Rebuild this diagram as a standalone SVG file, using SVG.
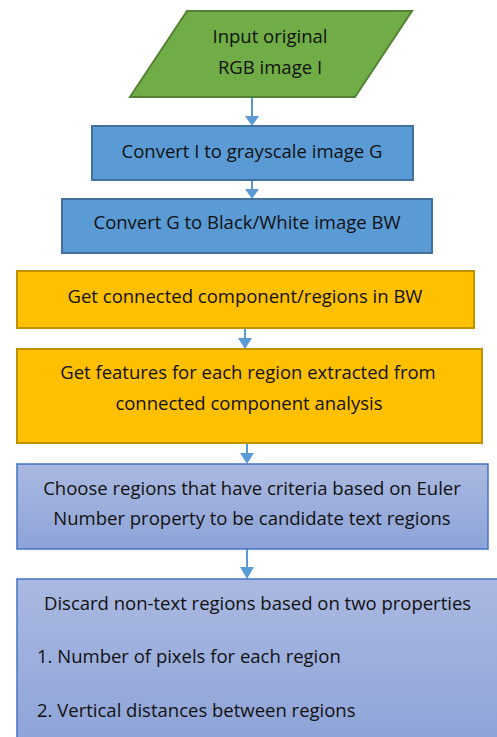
<svg xmlns="http://www.w3.org/2000/svg" width="497" height="737" viewBox="0 0 497 737">
<defs>
<style>
text{font-family:"Open Sans","Liberation Sans",Arial,sans-serif;font-size:18.5px;fill:#111}
.c{text-anchor:middle}
.edge{stroke:#5B9BD5;stroke-width:2;fill:none}
.head{fill:#5B9BD5}
</style>
<linearGradient id="g" x1="0" y1="0" x2="0" y2="1">
<stop offset="0" stop-color="#AAB9E1"/>
<stop offset="1" stop-color="#8DA3D7"/>
</linearGradient>
</defs>
<rect width="497" height="737" fill="#fff"/>
<g id="connectors">
<line class="edge" x1="252" y1="97" x2="252" y2="117"/>
<path class="head" d="M245,116 L259,116 L252,126 Z"/>
<line class="edge" x1="252" y1="180" x2="252" y2="190"/>
<path class="head" d="M245,189 L259,189 L252,199 Z"/>
<line class="edge" x1="245" y1="328" x2="245" y2="339"/>
<path class="head" d="M238,338 L252,338 L245,349 Z"/>
<line class="edge" x1="247" y1="443" x2="247" y2="454"/>
<path class="head" d="M240,453 L254,453 L247,464 Z"/>
<line class="edge" x1="247" y1="549" x2="247" y2="568"/>
<path class="head" d="M240,567 L254,567 L247,579 Z"/>
</g>
<g id="input">
<polygon points="187,11 412,11 355,97 130,97" fill="#70AD47" stroke="#548235" stroke-width="2"/>
<text class="c" x="270" y="43">Input original</text>
<text class="c" x="270" y="74">RGB image I</text>
</g>
<g id="gray">
<rect x="92" y="126" width="321" height="54" fill="#5B9BD5" stroke="#41719C" stroke-width="2"/>
<text class="c" x="252" y="158">Convert I to grayscale image G</text>
</g>
<g id="bw">
<rect x="62" y="199" width="370" height="54" fill="#5B9BD5" stroke="#41719C" stroke-width="2"/>
<text class="c" x="247" y="229">Convert G to Black/White image BW</text>
</g>
<g id="cc">
<rect x="17" y="271" width="457" height="57" fill="#FFC000" stroke="#BF9000" stroke-width="2"/>
<text class="c" x="245" y="303">Get connected component/regions in BW</text>
</g>
<g id="features">
<rect x="17" y="349" width="465" height="94" fill="#FFC000" stroke="#BF9000" stroke-width="2"/>
<text class="c" x="248" y="379">Get features for each region extracted from</text>
<text class="c" x="249" y="410">connected component analysis</text>
</g>
<g id="euler">
<rect x="17" y="464" width="471" height="85" fill="url(#g)" stroke="#4472C4" stroke-width="1.5"/>
<text class="c" x="252" y="495">Choose regions that have criteria based on Euler</text>
<text class="c" x="252" y="525">Number property to be candidate text regions</text>
</g>
<g id="discard">
<rect x="17" y="579" width="490" height="170" fill="url(#g)" stroke="#4472C4" stroke-width="1.5"/>
<text x="44" y="610">Discard non-text regions based on two properties</text>
<text x="37" y="663">1. Number of pixels for each region</text>
<text x="37" y="717">2. Vertical distances between regions</text>
</g>
</svg>
